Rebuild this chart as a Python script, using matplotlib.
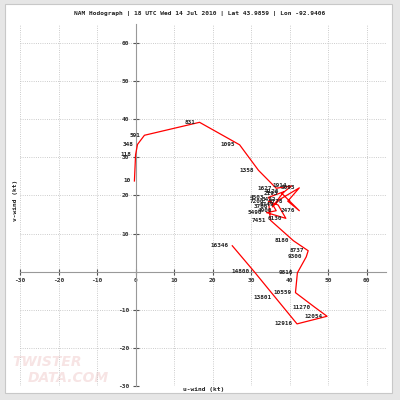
import matplotlib.pyplot as plt
from matplotlib.patches import Rectangle

plt.rcParams['axes.unicode_minus'] = False

heights = [10, 118, 348, 591, 831, 1095, 1358, 1627, 1914, 2193, 2476, 2778,
           3093, 3422, 3766, 4126, 4503, 4900, 5490, 6130, 6749, 7200, 7451,
           8180, 8737, 9300, 9816, 10559, 11270, 12054, 12916, 13801, 14800, 16346]
u = [-0.3, 0.0, 0.5, 2.3, 16.6, 27.0, 31.9, 36.5, 40.5, 38.0, 42.5, 39.5,
     42.5, 37.5, 35.5, 38.5, 34.5, 36.5, 34.0, 39.0, 37.0, 34.5, 35.0,
     41.0, 44.8, 44.3, 42.0, 41.5, 46.6, 49.7, 41.9, 36.3, 30.8, 25.1]
v = [23.8, 30.7, 33.4, 35.8, 39.2, 33.3, 26.6, 21.9, 22.5, 20.5, 16.0, 18.5,
     22.0, 19.0, 17.0, 21.0, 19.5, 16.0, 15.5, 14.0, 17.5, 18.5, 13.5,
     8.1, 5.5, 3.9, -0.3, -5.5, -9.4, -11.7, -13.7, -6.8, 0.0, 6.8]

ticks = [-30, -20, -10, 0, 10, 20, 30, 40, 50, 60]
title = "NAM Hodograph | 18 UTC Wed 14 Jul 2010 | Lat 43.9859 | Lon -92.9406"

mono = 'DejaVu Sans Mono'

fig = plt.figure(figsize=(4, 4), dpi=100, facecolor='#e6e6e6')
fig.patches.append(Rectangle((0.0125, 0.0175), 0.9675, 0.9725, transform=fig.transFigure,
                             facecolor='white', edgecolor='#c8c8c8', lw=0.8, zorder=-10))

# faint watermark
fig.text(0.03, 0.095, 'TWISTER', fontsize=10, fontweight='bold', style='italic',
         color='#f7e4e4', ha='left', va='center', zorder=-5)
fig.text(0.07, 0.055, 'DATA.COM', fontsize=10, fontweight='bold', style='italic',
         color='#f7e4e4', ha='left', va='center', zorder=-5)

ax = fig.add_axes([0.05, 0.035, 0.915, 0.905])
ax.set_facecolor('none')
ax.set_xlim(-30, 65)
ax.set_ylim(-30, 65)

# dotted grid
for t in ticks:
    if t != 0:
        ax.axvline(t, color='#bbbbbb', lw=0.6, ls=':', zorder=1)
        ax.axhline(t, color='#bbbbbb', lw=0.6, ls=':', zorder=1)

# axes through the origin
for s in ['top', 'right']:
    ax.spines[s].set_visible(False)
ax.spines['left'].set_position(('data', 0))
ax.spines['bottom'].set_position(('data', 0))
ax.spines['left'].set_color('#999999')
ax.spines['bottom'].set_color('#999999')
ax.spines['left'].set_linewidth(0.8)
ax.spines['bottom'].set_linewidth(0.8)
ax.set_xticks(ticks)
ax.set_yticks([t for t in ticks if t != 0])
ax.tick_params(direction='inout', length=5, width=0.8, color='#555555',
               labelsize=4.5, pad=2)
for lab in ax.get_xticklabels() + ax.get_yticklabels():
    lab.set_fontfamily(mono)
    lab.set_fontweight('bold')
    lab.set_color('#333333')

ax.plot(u, v, color='red', lw=0.9, zorder=3)
for h, x, y in zip(heights, u, v):
    ax.annotate(str(h), (x, y), xytext=(-3, 0), textcoords='offset points',
                ha='right', va='center', fontsize=4.3, family=mono,
                fontweight='bold', color='#222222', zorder=4)

fig.text(0.5, 0.965, title, ha='center', va='center', fontsize=4.5,
         family=mono, fontweight='bold', color='#222222')
fig.text(0.51, 0.025, 'u-wind (kt)', ha='center', va='center', fontsize=4.5,
         family=mono, fontweight='bold', color='#222222')
fig.text(0.04, 0.5, 'v-wind (kt)', ha='center', va='center', rotation=90,
         fontsize=4.5, family=mono, fontweight='bold', color='#222222')

fig.savefig('out.png', dpi=100, facecolor=fig.get_facecolor())
